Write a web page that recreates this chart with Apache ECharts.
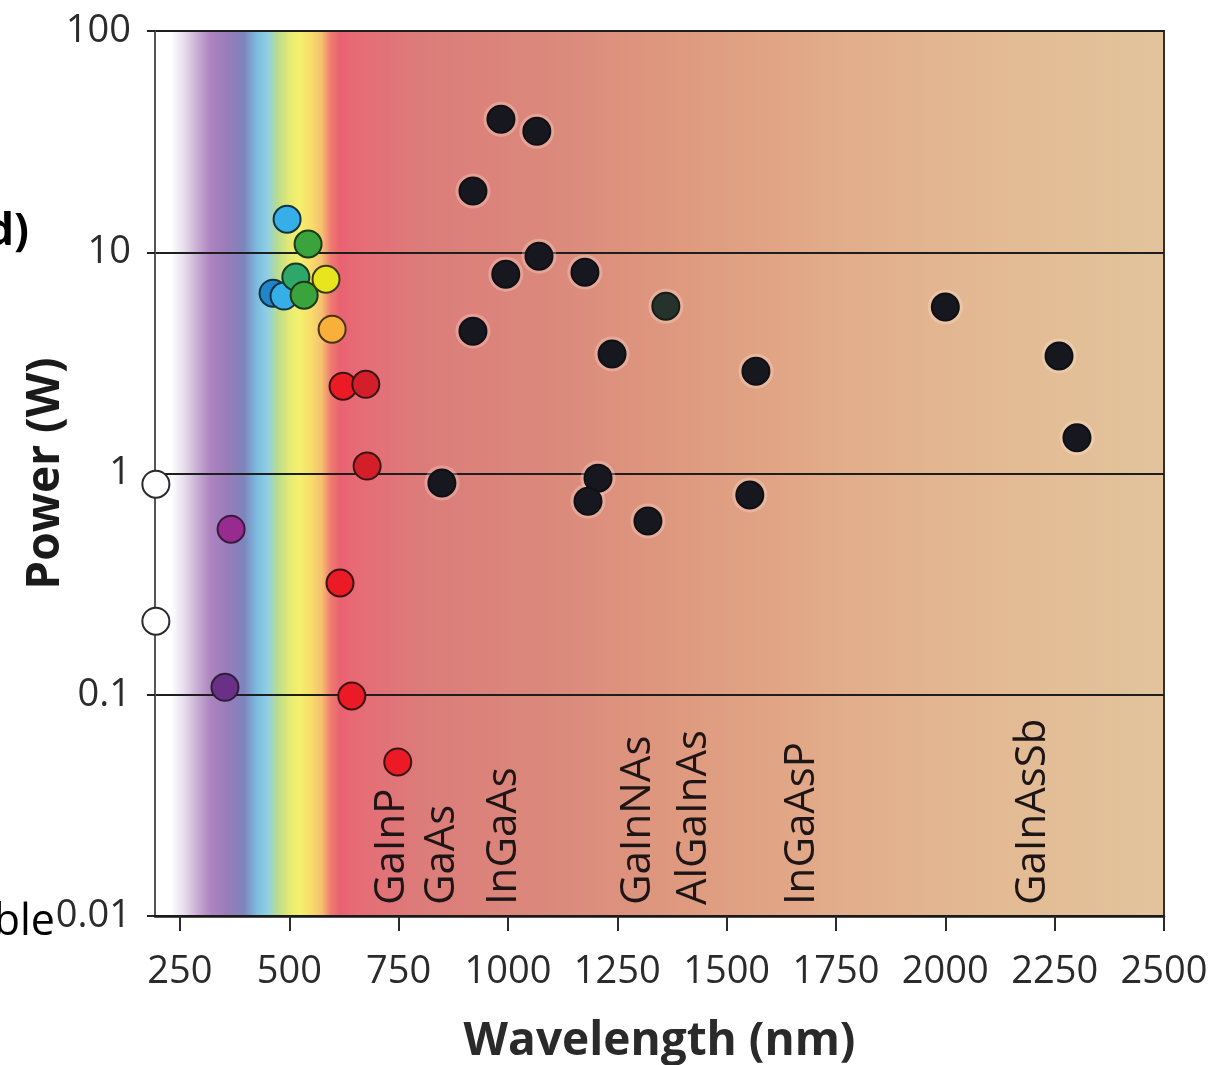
<!DOCTYPE html>
<html>
<head>
<meta charset="utf-8">
<script src="https://cdn.jsdelivr.net/npm/echarts@6/dist/echarts.min.js"></script>
<style>
html,body{margin:0;padding:0;background:#fff;}
#chart{width:1227px;height:1065px;}
</style>
</head>
<body>
<div id="chart"></div>
<script>
// ---- data ----
const xTicks = [250, 500, 750, 1000, 1250, 1500, 1750, 2000, 2250, 2500];
const yTickLabels = ['0.01', '0.1', '1', '10', '100'];

const openPts      = [[195, 0.895], [195, 0.215]];
const magentaPts   = [[367, 0.56]];
const violetPts    = [[353, 0.108]];
const bluePts      = [[463, 6.53]];
const skyPts       = [[488, 6.34], [495, 14.1]];
const tealPts      = [[515, 7.73]];
const greenPts     = [[543, 10.9], [534, 6.4]];
const yellowPts    = [[584, 7.55]];
const orangePts    = [[598, 4.49]];
const redPts       = [[623, 2.48], [616, 0.32], [643, 0.0987], [748, 0.0497]];
const darkRedPts   = [[675, 2.53], [678, 1.08]];
const blackPts     = [[984, 39.9], [1066, 35.2], [920, 18.9], [1071, 9.6], [995, 7.96], [1176, 8.13],
                      [920, 4.4], [1238, 3.47], [1567, 2.9], [849, 0.906], [1206, 0.953], [1183, 0.75],
                      [1320, 0.61], [1553, 0.80], [2000, 5.65], [2260, 3.40], [2301, 1.45]];
const darkGreenPts = [[1361, 5.7]];

const materialNames = ['GaInP', 'GaAs', 'InGaAs', 'GaInNAs', 'AlGaInAs', 'InGaAsP', 'GaInAsSb'];
const materialWavelengths = [736, 850, 992, 1297, 1425, 1672, 2201];
const materialBaseValue = 0.0112;

// ---- chart ----
const FONT = "'Open Sans', 'Noto Sans', sans-serif";
const chart = echarts.init(document.getElementById('chart'), null, {renderer: 'canvas'});

const bg = new echarts.graphic.LinearGradient(0, 0, 1, 0, [
  {offset: 0.000, color: '#ffffff'},
  {offset: 0.017, color: '#ffffff'},
  {offset: 0.030, color: '#e6dced'},
  {offset: 0.045, color: '#c4a6cf'},
  {offset: 0.056, color: '#ad84c0'},
  {offset: 0.072, color: '#9a7cba'},
  {offset: 0.089, color: '#7d84be'},
  {offset: 0.102, color: '#7cbde0'},
  {offset: 0.112, color: '#8ecfe6'},
  {offset: 0.122, color: '#b8dc90'},
  {offset: 0.134, color: '#e6ea72'},
  {offset: 0.144, color: '#f5f06e'},
  {offset: 0.156, color: '#f8dc6a'},
  {offset: 0.166, color: '#f6c070'},
  {offset: 0.175, color: '#ee7a70'},
  {offset: 0.184, color: '#ea6272'},
  {offset: 0.203, color: '#e66c76'},
  {offset: 0.263, color: '#dc7c7a'},
  {offset: 0.401, color: '#db8a7c'},
  {offset: 0.540, color: '#df9c80'},
  {offset: 0.689, color: '#e2ae8c'},
  {offset: 0.837, color: '#e3ba94'},
  {offset: 1.000, color: '#e2c49c'}
]);

function sc(name, data, fill, border, extra) {
  return Object.assign({
    name: name,
    type: 'scatter',
    data: data,
    symbol: 'circle',
    symbolSize: 27,
    itemStyle: {color: fill, borderColor: border || '#1e2a1e', borderWidth: 2, opacity: 1},
    emphasis: {disabled: true},
    z: 3
  }, extra || {});
}

const haloStyle = {
  symbolSize: 35,
  itemStyle: {color: 'rgba(255,236,226,0.35)', borderWidth: 0},
  z: 2
};

const option = {
  animation: false,
  textStyle: {fontFamily: FONT},
  grid: {
    left: 155, right: 63, top: 31, bottom: 149,
    containLabel: false,
    outerBoundsMode: 'none',
    show: true,
    backgroundColor: bg,
    borderColor: '#3a2c2a',
    borderWidth: 2
  },
  xAxis: {
    type: 'value',
    min: 193, max: 2500,
    name: 'Wavelength (nm)',
    nameLocation: 'middle',
    nameGap: 103,
    nameMoveOverlap: false,
    nameTextStyle: {fontFamily: FONT, fontSize: 46, fontWeight: 'bold', color: '#2a2a2a'},
    axisLine: {show: true, onZero: false, lineStyle: {color: '#1a1a1a', width: 2.5}},
    axisTick: {show: true, length: 15, lineStyle: {color: '#2a2a2a', width: 2}, customValues: xTicks},
    axisLabel: {show: true, margin: 37, fontFamily: FONT, fontSize: 38, color: '#2b2b2b', customValues: xTicks,
                formatter: v => String(v)},
    splitLine: {show: false}
  },
  yAxis: {
    type: 'log',
    logBase: 10,
    min: 0.01, max: 100,
    name: 'Power (W)',
    nameLocation: 'middle',
    nameGap: 86,
    nameMoveOverlap: false,
    nameTextStyle: {fontFamily: FONT, fontSize: 46, fontWeight: 'bold', color: '#1a1a1a'},
    axisLine: {show: true, lineStyle: {color: '#555555', width: 2}},
    axisTick: {show: true, length: 8, lineStyle: {color: '#222222', width: 2}},
    axisLabel: {show: true, margin: 24, fontFamily: FONT, fontSize: 38, color: '#2b2b2b',
                formatter: v => yTickLabels[Math.round(Math.log10(v)) + 2] || ''},
    splitLine: {show: true, lineStyle: {color: '#1e1e1e', width: 2}},
    minorTick: {show: false},
    minorSplitLine: {show: false}
  },
  series: [
    sc('open', openPts, '#ffffff', '#2a2a2a'),
    sc('magenta', magentaPts, '#972b8f', '#3a1a3a'),
    sc('violet', violetPts, '#6a2f87', '#2e1e3a'),
    sc('blue', bluePts, '#1f86cc', '#173040'),
    sc('sky', skyPts, '#36aee8', '#173040'),
    sc('teal', tealPts, '#2ea86a', '#173a20'),
    sc('green', greenPts, '#3ba33c', '#173a17'),
    sc('yellow', yellowPts, '#e8e41e', '#3a3a10'),
    sc('orange', orangePts, '#f8b03a', '#4a3210'),
    sc('red', redPts, '#ec1a24', '#3a1414'),
    sc('darkred', darkRedPts, '#d21f2a', '#3a1414'),
    sc('blackHalo', blackPts, null, null, haloStyle),
    sc('darkgreenHalo', darkGreenPts, null, null, haloStyle),
    sc('black', blackPts, '#17171f', '#101014'),
    sc('darkgreen', darkGreenPts, '#26332d', '#151c18')
  ]
};

chart.setOption(option);

// material labels, placed through the chart's own coordinate system
const graphics = materialNames.map((name, i) => {
  const p = chart.convertToPixel({gridIndex: 0}, [materialWavelengths[i], materialBaseValue]);
  return {
    type: 'text',
    x: p[0], y: p[1],
    rotation: Math.PI / 2,
    z: 10,
    silent: true,
    style: {text: name, fontFamily: FONT, fontSize: 42, fill: '#1e1616', align: 'left', verticalAlign: 'middle'}
  };
});
// cropped fragments of neighbouring text at the left edge
graphics.push({type: 'text', x: 29, y: 232, z: 10, silent: true,
  style: {text: 'd)', fontFamily: FONT, fontSize: 44, fontWeight: 'bold', fill: '#000', align: 'right', verticalAlign: 'middle'}});
graphics.push({type: 'text', x: 55, y: 923, z: 10, silent: true,
  style: {text: 'ble', fontFamily: FONT, fontSize: 43, fill: '#000', align: 'right', verticalAlign: 'middle'}});

chart.setOption({graphic: graphics});
</script>
</body>
</html>
